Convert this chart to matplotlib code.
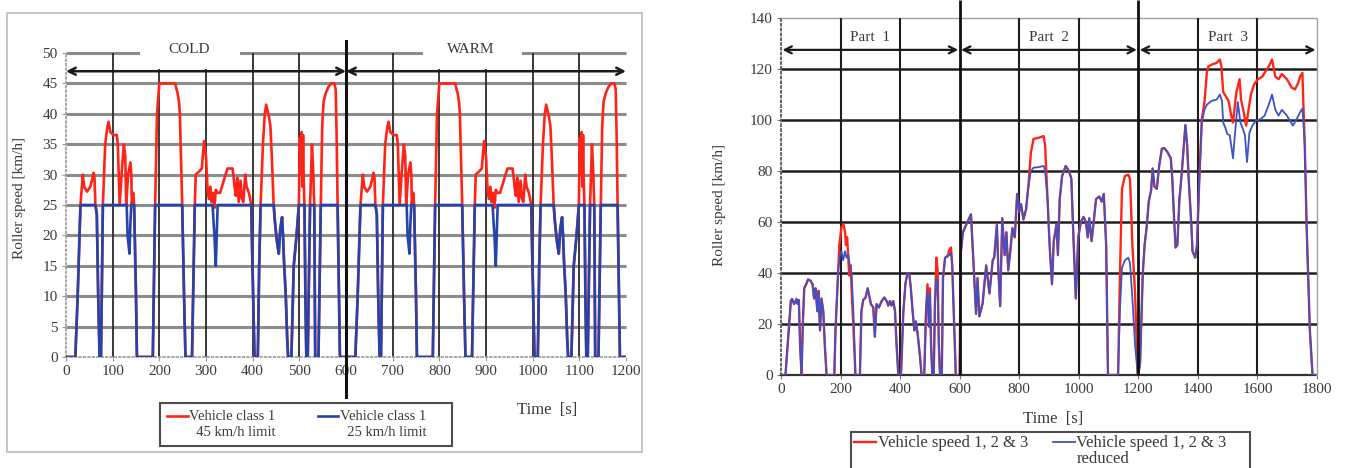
import numpy as np
import matplotlib.pyplot as plt
from matplotlib.patches import Rectangle
from matplotlib.legend_handler import HandlerLine2D

plt.rcParams['font.family'] = ['Liberation Serif', 'DejaVu Serif']

#---------------------------------------------------
# Left chart: class 1 cycle (600 s), driven cold and then warm
t_45 = [0, 20, 25, 31, 36, 39, 45, 52, 57, 59, 61, 63, 66, 69, 72, 75, 79, 84, 88, 91,
        95, 102, 109, 111, 115, 119, 124, 127, 129, 133, 138, 140, 141, 144, 146, 150, 152, 186, 191, 195,
        200, 234, 237, 239, 242, 244, 249, 253, 256, 270, 276, 278, 285, 291, 293, 296, 298, 300, 303, 306,
        309, 312, 315, 318, 321, 325, 330, 334, 340, 346, 357, 360, 362, 364, 367, 370, 374, 377, 380, 384,
        387, 392, 397, 399, 404, 411, 414, 417, 422, 426, 429, 432, 435, 438, 441, 445, 448, 452, 456, 459,
        463, 465, 467, 471, 474, 476, 483, 488, 494, 499, 501, 503, 505, 507, 508, 509, 511, 513, 515, 518,
        521, 523, 525, 527, 530, 532, 534, 541, 546, 549, 552, 557, 563, 569, 575, 578, 580, 582, 587, 600]
v_45 = [0, 0, 10, 25, 30, 28, 27.2, 28, 29.5, 30.3, 29.5, 25, 23.5, 10, 0, 0, 25, 35, 37.5, 38.7,
        37, 36.5, 36.5, 35, 25, 30, 35, 33, 25, 30, 32, 30, 25, 27, 25, 10, 0, 0, 25, 40,
        45, 45, 44, 43.5, 42, 40, 25, 10, 0, 0, 25, 30, 30.5, 31, 33, 35.5, 34, 33, 28, 26,
        28, 25.5, 27, 24.5, 27.5, 27, 27, 28, 29.5, 31, 31, 29, 27.5, 26.5, 29.5, 25.5, 29, 26, 25.5, 30,
        28, 27, 25, 17, 0, 0, 15, 25, 35, 40, 41.5, 40.5, 39.5, 38, 33, 25, 22, 19, 17, 21,
        23, 20, 16, 10, 3, 0, 0, 15, 20, 25, 36, 30, 37, 28, 36.5, 30, 25, 10, 0, 0,
        15, 25, 30, 35, 30, 25, 0, 0, 25, 38, 42, 43.5, 44.5, 45, 45, 44, 36, 25, 0, 0]

t_25 = [0, 20, 25, 31, 63, 66, 69, 72, 75, 79, 130, 132, 136, 138, 140, 146, 150, 152, 186, 191,
        249, 253, 256, 270, 276, 314, 318, 321, 323, 325, 397, 399, 404, 411, 414, 417, 445, 448, 452, 456,
        459, 463, 465, 467, 471, 474, 476, 483, 488, 494, 499, 511, 513, 515, 518, 521, 523, 532, 534, 541,
        546, 582, 587, 600]
v_25 = [0, 0, 10, 25, 25, 23.5, 10, 0, 0, 25, 25, 20, 17, 22, 25, 25, 10, 0, 0, 25,
        25, 10, 0, 0, 25, 25, 20, 15, 20, 25, 25, 17, 0, 0, 15, 25, 25, 22, 19, 17,
        21, 23, 20, 16, 10, 3, 0, 0, 15, 20, 25, 25, 10, 0, 0, 15, 25, 25, 0, 0,
        25, 25, 0, 0]

cycle_len = 600
left_phases = ['COLD', 'WARM']

#---------------------------------------------------
# Right chart: parts 1, 2, 3 (full and reduced speed)
t_p1 = [0, 15, 33, 37, 44, 52, 55, 60, 64, 69, 73, 78, 86, 91, 99, 106, 111, 116, 122, 126,
        131, 136, 142, 147, 153, 179, 183, 190, 196, 203, 210, 215, 218, 222, 226, 229, 234, 237, 243, 250,
        265, 270, 276, 284, 291, 295, 302, 310, 315, 321, 329, 338, 347, 355, 360, 366, 371, 377, 383, 388,
        394, 403, 411, 418, 425, 431, 436, 442, 448, 453, 459, 467, 472, 481, 487, 492, 497, 500, 504, 508,
        513, 517, 522, 526, 530, 534, 540, 544, 551, 560, 565, 571, 575, 580, 587]
v_p1 = [0, 0, 29, 29.8, 27.8, 29.8, 28, 29.4, 12, 0, 19, 34, 36, 37.5, 37, 35.6, 30, 34, 25, 33,
        17.5, 30, 25, 12, 0, 0, 17.5, 35.6, 51, 58, 59, 56, 51, 54, 46, 39, 43, 34, 19, 0,
        0, 25, 29.4, 30.4, 34, 31.7, 27.8, 26.5, 15, 27.8, 26.5, 29, 30.4, 29, 27.2, 29, 27.2, 29, 25, 12,
        0, 0, 25, 36, 40, 39.5, 34, 25, 17.5, 21, 16, 7, 0, 0, 25, 35.6, 19, 34, 12, 0,
        0, 28, 46, 40.8, 12, 0, 0, 38, 46, 46.6, 49, 50, 43, 25, 0]
t_p1_red = [0, 15, 33, 37, 44, 52, 55, 60, 64, 69, 73, 78, 86, 91, 99, 106, 111, 116, 122, 126,
            131, 136, 142, 147, 153, 179, 183, 192, 198, 203, 209, 215, 220, 226, 231, 237, 243, 250, 265, 270,
            276, 284, 291, 295, 302, 310, 315, 321, 329, 338, 347, 355, 360, 366, 371, 377, 383, 388, 394, 403,
            411, 418, 425, 431, 436, 442, 448, 453, 459, 467, 472, 481, 487, 492, 497, 500, 504, 508, 513, 517,
            522, 526, 530, 534, 540, 544, 551, 560, 565, 571, 575, 580, 587]
v_p1_red = [0, 0, 29, 29.8, 27.8, 29.8, 28, 29.4, 12, 0, 19, 34, 36, 37.5, 37, 35.6, 30, 34, 25, 33,
            17.5, 30, 25, 12, 0, 0, 17.5, 41, 47, 48.5, 45, 48.5, 46, 47, 43, 39.5, 25, 0, 0, 25,
            29.4, 30.4, 34, 31.7, 27.8, 26.5, 15, 27.8, 26.5, 29, 30.4, 29, 27.2, 29, 27.2, 29, 25, 12, 0, 0,
            25, 36, 40, 39.5, 34, 25, 17.5, 21, 16, 7, 0, 0, 25, 33, 19, 32, 12, 0, 0, 28,
            38, 35, 12, 0, 0, 38, 46, 46.6, 47, 48, 43, 25, 0]

t_p2 = [600, 603, 611, 626, 638, 643, 649, 655, 660, 666, 677, 689, 700, 711, 716, 725, 730, 736, 743, 751,
        757, 763, 770, 777, 785, 793, 800, 806, 814, 823, 831, 839, 848, 865, 882, 887, 895, 902, 910, 916,
        925, 930, 936, 944, 956, 967, 975, 982, 990, 998, 1007, 1016, 1024, 1030, 1035, 1043, 1050, 1058, 1069, 1077,
        1084, 1092, 1098, 1132, 1138, 1145, 1155, 1166, 1172, 1180, 1189, 1198]
v_p2 = [0, 47, 56, 60, 63, 52, 38, 24, 38, 23, 28, 43, 32, 45, 46, 59, 41, 27, 61.5, 47,
        56, 41, 48.5, 57.6, 54, 71, 64, 67, 61, 65, 74.5, 87, 92.6, 93, 93.7, 90, 69, 51, 35.6, 52.5,
        59, 47, 69, 78, 82, 80, 77, 54, 30, 54, 60, 62, 60, 54, 61.5, 52.5, 60, 69, 70, 68,
        71, 51, 0, 0, 38, 73, 78, 78.6, 77, 51, 32, 0]
v_p2_red = [0, 47, 56, 60, 63, 52, 38, 24, 38, 23, 28, 43, 32, 45, 46, 59, 41, 27, 61.5, 47,
            56, 41, 48.5, 57.6, 54, 71, 64, 67, 61, 65, 74, 80, 81.3, 81.5, 82, 80, 69, 51, 35.6, 52.5,
            59, 47, 69, 78, 82, 80, 77, 54, 30, 54, 60, 62, 60, 54, 61.5, 52.5, 60, 69, 70, 68,
            71, 51, 0, 0, 25, 42, 45, 46, 44, 30, 12, 0]

t_p3 = [1200, 1206, 1215, 1221, 1228, 1235, 1243, 1248, 1254, 1262, 1270, 1279, 1287, 1298, 1309, 1314, 1320, 1325, 1331, 1338,
        1345, 1353, 1358, 1364, 1369, 1378, 1382, 1391, 1397, 1404, 1413, 1422, 1430, 1435, 1448, 1463, 1474, 1479, 1485, 1496,
        1503, 1512, 1518, 1529, 1540, 1545, 1554, 1562, 1567, 1578, 1589, 1602, 1616, 1627, 1638, 1649, 1660, 1671, 1682, 1699,
        1715, 1726, 1737, 1743, 1751, 1754, 1759, 1765, 1776, 1785, 1800]
v_p3 = [0, 5, 40, 51, 58, 68, 72.5, 81, 74, 73, 82, 88.7, 89, 87.4, 85, 77, 61.5, 50, 51, 69,
        78, 90, 98, 90, 77, 59, 48.5, 46, 51, 74.5, 100, 107, 118.5, 121, 121.8, 122.4, 123.7, 121, 111, 108.8,
        107.5, 101.7, 99, 110.8, 116, 108, 103, 97.8, 101.7, 110, 114, 116, 117, 119, 121, 123.7, 117, 116, 118, 116,
        112.7, 112, 114.6, 117, 118.5, 107, 90, 59, 17.5, 0, 0]
t_p3_red = [1200, 1206, 1215, 1221, 1228, 1235, 1243, 1248, 1254, 1262, 1270, 1279, 1287, 1298, 1309, 1314, 1320, 1325, 1331, 1338,
            1345, 1353, 1358, 1364, 1369, 1378, 1382, 1391, 1397, 1404, 1413, 1422, 1430, 1446, 1463, 1474, 1481, 1485, 1492, 1499,
            1507, 1512, 1518, 1523, 1534, 1543, 1551, 1558, 1565, 1573, 1584, 1595, 1611, 1624, 1638, 1649, 1660, 1671, 1682, 1699,
            1719, 1732, 1743, 1751, 1754, 1759, 1765, 1776, 1785, 1800]
v_p3_red = [0, 5, 40, 51, 58, 68, 72.5, 81, 74, 73, 82, 88.7, 89, 87.4, 85, 77, 61.5, 50, 51, 69,
            78, 90, 98, 90, 77, 59, 48.5, 46, 51, 74.5, 99, 104, 106, 107.5, 108, 110, 107.5, 99, 97, 94.5,
            94, 90, 85, 92.6, 107, 99, 96.5, 94, 83.5, 95, 98, 99.7, 100.4, 101.7, 106, 110, 104, 101.7, 104, 101.7,
            97.8, 100.4, 103, 104.5, 100, 90, 59, 17.5, 0, 0]

part_names = ['Part  1', 'Part  2', 'Part  3']
part_edges = [0, 600, 1200, 1800]

RED = '#ff2418'
BLUE_L = '#2444ac'
BLUE_R = '#3d52c6'
TXT = '#3a3a3a'
W, H = 1345, 468


#legend line drawn level with the first text line
class TopLine(HandlerLine2D):
    def create_artists(self, legend, orig_handle, xdescent, ydescent, width, height, fontsize, trans):
        arts = super().create_artists(legend, orig_handle, xdescent, ydescent, width, height,
                                      fontsize, trans)
        for a in arts:
            a.set_ydata(np.asarray(a.get_ydata()) + 0.55 * fontsize)
        return arts


def style_legend(leg, spacing):
    leg.get_frame().set_edgecolor('#222')
    leg.get_frame().set_linewidth(1.5)
    for txt in leg.get_texts():
        txt.set_color(TXT)
        txt.set_linespacing(spacing)

#---------------------------------------------------
def main():
    fig = plt.figure(figsize=(W / 100, H / 100), dpi=100)

    # outer frame around the left chart
    fig.patches.append(Rectangle((7 / W, 1 - 452 / H), 635 / W, 439 / H, transform=fig.transFigure,
                                 fill=False, edgecolor='#c4c4c4', lw=1.4))

    #-------------------- left chart --------------------
    axL = fig.add_axes([66 / W, 1 - 357 / H, 560 / W, 304 / H])
    tL45 = np.concatenate([t_45, np.array(t_45) + cycle_len])
    vL45 = np.concatenate([v_45, v_45])
    tL25 = np.concatenate([t_25, np.array(t_25) + cycle_len])
    vL25 = np.concatenate([v_25, v_25])
    l1, = axL.plot(tL45, vL45, color=RED, lw=1.9, zorder=4)
    l2, = axL.plot(tL25, vL25, color=BLUE_L, lw=1.9, zorder=4.1)
    axL.set_xlim(0, 2 * cycle_len)
    axL.set_ylim(0, 50)
    xt = np.arange(0, 2 * cycle_len + 1, 100)
    yt = np.arange(0, 51, 5)
    axL.set_xticks(xt)
    axL.set_yticks(yt)
    axL.hlines(yt[1:], 0, 2 * cycle_len, color='#8c8c8c', lw=2.2, zorder=1, clip_on=False)
    vx = [x for x in xt[1:-1] if x != cycle_len]
    axL.vlines(vx, 0, 50, color='#2a2a2a', lw=1.3, zorder=1.2)
    # white boxes behind the phase names
    for (x0, x1) in [(158, 373), (765, 977)]:
        axL.add_patch(Rectangle((x0, 47.4), x1 - x0, 4.5, facecolor='white', edgecolor='none',
                                zorder=2, clip_on=False))
    for i, name in enumerate(left_phases):
        a = i * cycle_len
        axL.annotate('', xy=(a + cycle_len, 47), xytext=(a, 47),
                     arrowprops=dict(arrowstyle='<->,head_length=0.5,head_width=0.25',
                                     color='#1a1a1a', lw=1.8, shrinkA=0, shrinkB=0), zorder=5)
        axL.text(a + 0.44 * cycle_len + (3 if i else 0), 50.6, name, ha='center', va='center',
                 fontsize=11, color=TXT, zorder=6)
    axL.plot([cycle_len, cycle_len], [-6.5, 52], color='#111', lw=2.2, zorder=5, clip_on=False)
    for s in ['top', 'right']:
        axL.spines[s].set_visible(False)
    for s in ['left', 'bottom']:
        axL.spines[s].set_linestyle(':')
        axL.spines[s].set_color('#999')
        axL.spines[s].set_linewidth(1.2)
    axL.tick_params(length=3, color='#999', labelsize=11, labelcolor=TXT, pad=3)
    fig.text(20 / W, 1 - 198 / H, 'Roller speed [km/h]', rotation=90, ha='center', va='center',
             fontsize=11, color=TXT)
    fig.text(547 / W, 1 - 410 / H, 'Time  [s]', ha='center', va='center', fontsize=12, color=TXT)
    legL = fig.legend([l1, l2], ['Vehicle class 1\n  45 km/h limit', 'Vehicle class 1\n  25 km/h limit     '],
                      loc='upper left', bbox_to_anchor=(160 / W, 1 - 403 / H), ncol=2,
                      fontsize=10.5, frameon=True, fancybox=False, handlelength=1.4, handletextpad=0.1,
                      borderpad=0.5, borderaxespad=0, labelspacing=0.2, columnspacing=2.9,
                      handler_map={l1: TopLine(), l2: TopLine()})
    style_legend(legL, 1.25)

    #-------------------- right chart --------------------
    axR = fig.add_axes([781 / W, 1 - 375 / H, 536 / W, 357 / H])
    t_full = np.concatenate([t_p1, t_p2, t_p3])
    v_full = np.concatenate([v_p1, v_p2, v_p3])
    t_reduced = np.concatenate([t_p1_red, t_p2, t_p3_red])
    v_reduced = np.concatenate([v_p1_red, v_p2_red, v_p3_red])
    r1, = axR.plot(t_full, v_full, color=RED, lw=1.7, zorder=4)
    r2, = axR.plot(t_reduced, v_reduced, color=BLUE_R, lw=1.3, zorder=4.1)
    axR.set_xlim(0, 1800)
    axR.set_ylim(0, 140)
    xt = np.arange(0, 1801, 200)
    yt = np.arange(0, 141, 20)
    axR.set_xticks(xt)
    axR.set_yticks(yt)
    axR.hlines(yt[1:-1], 0, 1800, color='#1e1e1e', lw=1.8, zorder=1)
    axR.hlines([140], 0, 1800, color='#a0a0a0', lw=1.0, zorder=1, clip_on=False)
    vx = [x for x in xt[1:-1] if x not in part_edges]
    axR.vlines(vx, 0, 140, color='#1e1e1e', lw=1.5, zorder=1)
    axR.vlines([1800], 0, 140, color='#a0a0a0', lw=1.0, zorder=1, clip_on=False)
    axR.vlines(part_edges[1:-1], 0, 147, color='#111', lw=2.0, zorder=5, clip_on=False)
    for i, name in enumerate(part_names):
        a, b = part_edges[i], part_edges[i + 1]
        axR.annotate('', xy=(b, 127.5), xytext=(a, 127.5),
                     arrowprops=dict(arrowstyle='<->,head_length=0.5,head_width=0.25',
                                     color='#1a1a1a', lw=1.6, shrinkA=1, shrinkB=1), zorder=5)
        axR.text((a + b) / 2, 132.5, name, ha='center', va='center', fontsize=11, color=TXT,
                 zorder=6)
    for s in ['top', 'right']:
        axR.spines[s].set_visible(False)
    axR.spines['left'].set_linestyle(':')
    axR.spines['left'].set_color('#555')
    axR.spines['left'].set_linewidth(1.3)
    axR.spines['bottom'].set_linestyle((0, (2.5, 1)))
    axR.spines['bottom'].set_color('#333')
    axR.spines['bottom'].set_linewidth(1.6)
    axR.tick_params(length=3, color='#777', labelsize=11, labelcolor=TXT, pad=3)
    fig.text(720 / W, 1 - 205 / H, 'Roller speed [km/h]', rotation=90, ha='center', va='center',
             fontsize=11, color=TXT)
    fig.text(1053 / W, 1 - 419 / H, 'Time  [s]', ha='center', va='center', fontsize=12, color=TXT)
    legR = fig.legend([r1, r2], ['Vehicle speed 1, 2 & 3\n ', 'Vehicle speed 1, 2 & 3     \nreduced'],
                      loc='upper left', bbox_to_anchor=(851 / W, 1 - 432 / H), ncol=2,
                      fontsize=12, frameon=True, fancybox=False, handlelength=1.3, handletextpad=0.1,
                      borderpad=0.2, borderaxespad=0, labelspacing=0.2, columnspacing=1.5,
                      handler_map={r1: TopLine(), r2: TopLine()})
    style_legend(legR, 0.95)

    fig.savefig('out.png', dpi=100)
#---------------------------------------------------
if __name__ == "__main__":
    main()
